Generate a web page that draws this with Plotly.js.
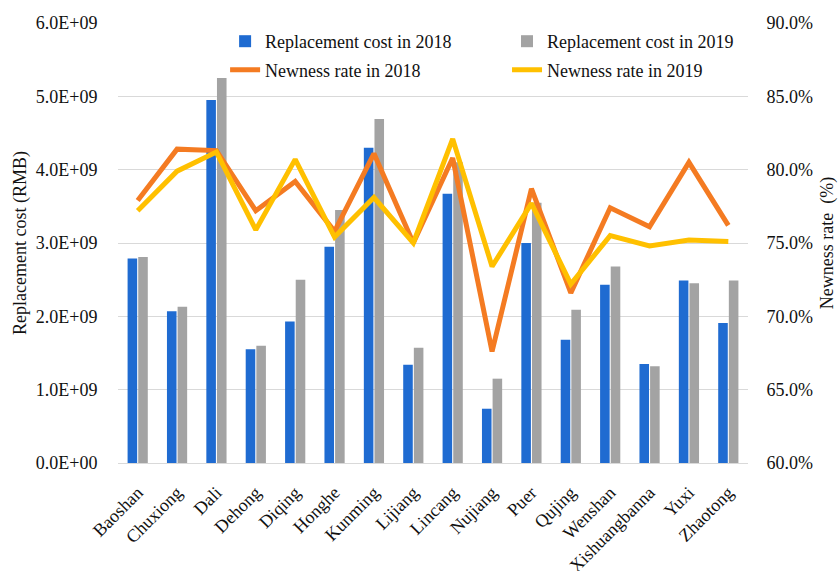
<!DOCTYPE html>
<html>
<head>
<meta charset="utf-8">
<script src="https://cdn.plot.ly/plotly-3.0.1.min.js"></script>
<style>html,body{margin:0;padding:0;background:#fff;}#chart{width:838px;height:571px;}</style>
</head>
<body>
<div id="chart"></div>
<script>
const cities = ["Baoshan","Chuxiong","Dali","Dehong","Diqing","Honghe","Kunming","Lijiang","Lincang","Nujiang","Puer","Qujing","Wenshan","Xishuangbanna","Yuxi","Zhaotong"];
const cost2018 = [2.79e9,2.07e9,4.95e9,1.55e9,1.93e9,2.95e9,4.30e9,1.34e9,3.67e9,0.74e9,3.00e9,1.68e9,2.43e9,1.35e9,2.49e9,1.91e9];
const cost2019 = [2.81e9,2.13e9,5.25e9,1.60e9,2.50e9,3.45e9,4.69e9,1.57e9,4.10e9,1.15e9,3.55e9,2.09e9,2.68e9,1.32e9,2.45e9,2.49e9];
const rate2018 = [0.779,0.814,0.813,0.772,0.792,0.758,0.811,0.750,0.808,0.676,0.787,0.716,0.774,0.761,0.805,0.762];
const rate2019 = [0.772,0.799,0.812,0.759,0.807,0.754,0.781,0.750,0.821,0.734,0.777,0.722,0.755,0.748,0.752,0.751];
const costTicks = [0,1e9,2e9,3e9,4e9,5e9,6e9];
const costTickText = ["0.0E+00","1.0E+09","2.0E+09","3.0E+09","4.0E+09","5.0E+09","6.0E+09"];

const serif = "Liberation Serif, Times New Roman, serif";

const traces = [
  {type:"bar", name:"Replacement cost in 2018", x:cities, y:cost2018, marker:{color:"#1F6BD1"}, legend:"legend", yaxis:"y"},
  {type:"bar", name:"Replacement cost in 2019", x:cities, y:cost2019, marker:{color:"#A3A3A3"}, legend:"legend2", yaxis:"y"},
  {type:"scatter", mode:"lines", name:"Newness rate in 2018", x:cities, y:rate2018, line:{color:"#F47B22", width:5}, legend:"legend3", yaxis:"y2"},
  {type:"scatter", mode:"lines", name:"Newness rate in 2019", x:cities, y:rate2019, line:{color:"#FFC000", width:5}, legend:"legend4", yaxis:"y2"}
];

function leg(x, y) {
  return {orientation:"h", x:x, xanchor:"left", y:y, yanchor:"top", font:{size:18},
          bgcolor:"rgba(0,0,0,0)", itemwidth:30};
}

const layout = {
  width:838, height:571,
  margin:{l:118, r:90, t:23, b:108},
  paper_bgcolor:"#fff", plot_bgcolor:"#fff",
  font:{family:serif, size:18, color:"#111"},
  barmode:"group", bargap:0.46, bargroupgap:0.1,
  showlegend:true,
  xaxis:{type:"category", tickangle:-45, ticks:"outside", ticklen:11, tickcolor:"rgba(0,0,0,0)",
         showgrid:false, showline:true, linecolor:"#D9D9D9", linewidth:1, tickfont:{size:18}},
  yaxis:{range:[0,6e9], tickvals:costTicks, ticktext:costTickText, showgrid:true, gridcolor:"#D9D9D9", gridwidth:1,
         zeroline:false, ticks:"outside", ticklen:16, tickcolor:"rgba(0,0,0,0)", tickfont:{size:18},
         title:{text:"Replacement cost (RMB)", font:{size:18}, standoff:4}},
  yaxis2:{range:[0.6,0.9], overlaying:"y", side:"right", tickformat:".1%", dtick:0.05, showgrid:false, zeroline:false,
          ticks:"outside", ticklen:14, tickcolor:"rgba(0,0,0,0)", tickfont:{size:18},
          title:{text:"Newness rate  (%)", font:{size:18}, standoff:8}},
  legend: leg(0.17, 1.0),
  legend2: leg(0.6175, 1.0),
  legend3: leg(0.17, 0.935),
  legend4: leg(0.6175, 0.935)
};

Plotly.newPlot("chart", traces, layout, {displayModeBar:false, staticPlot:true});
</script>
</body>
</html>
